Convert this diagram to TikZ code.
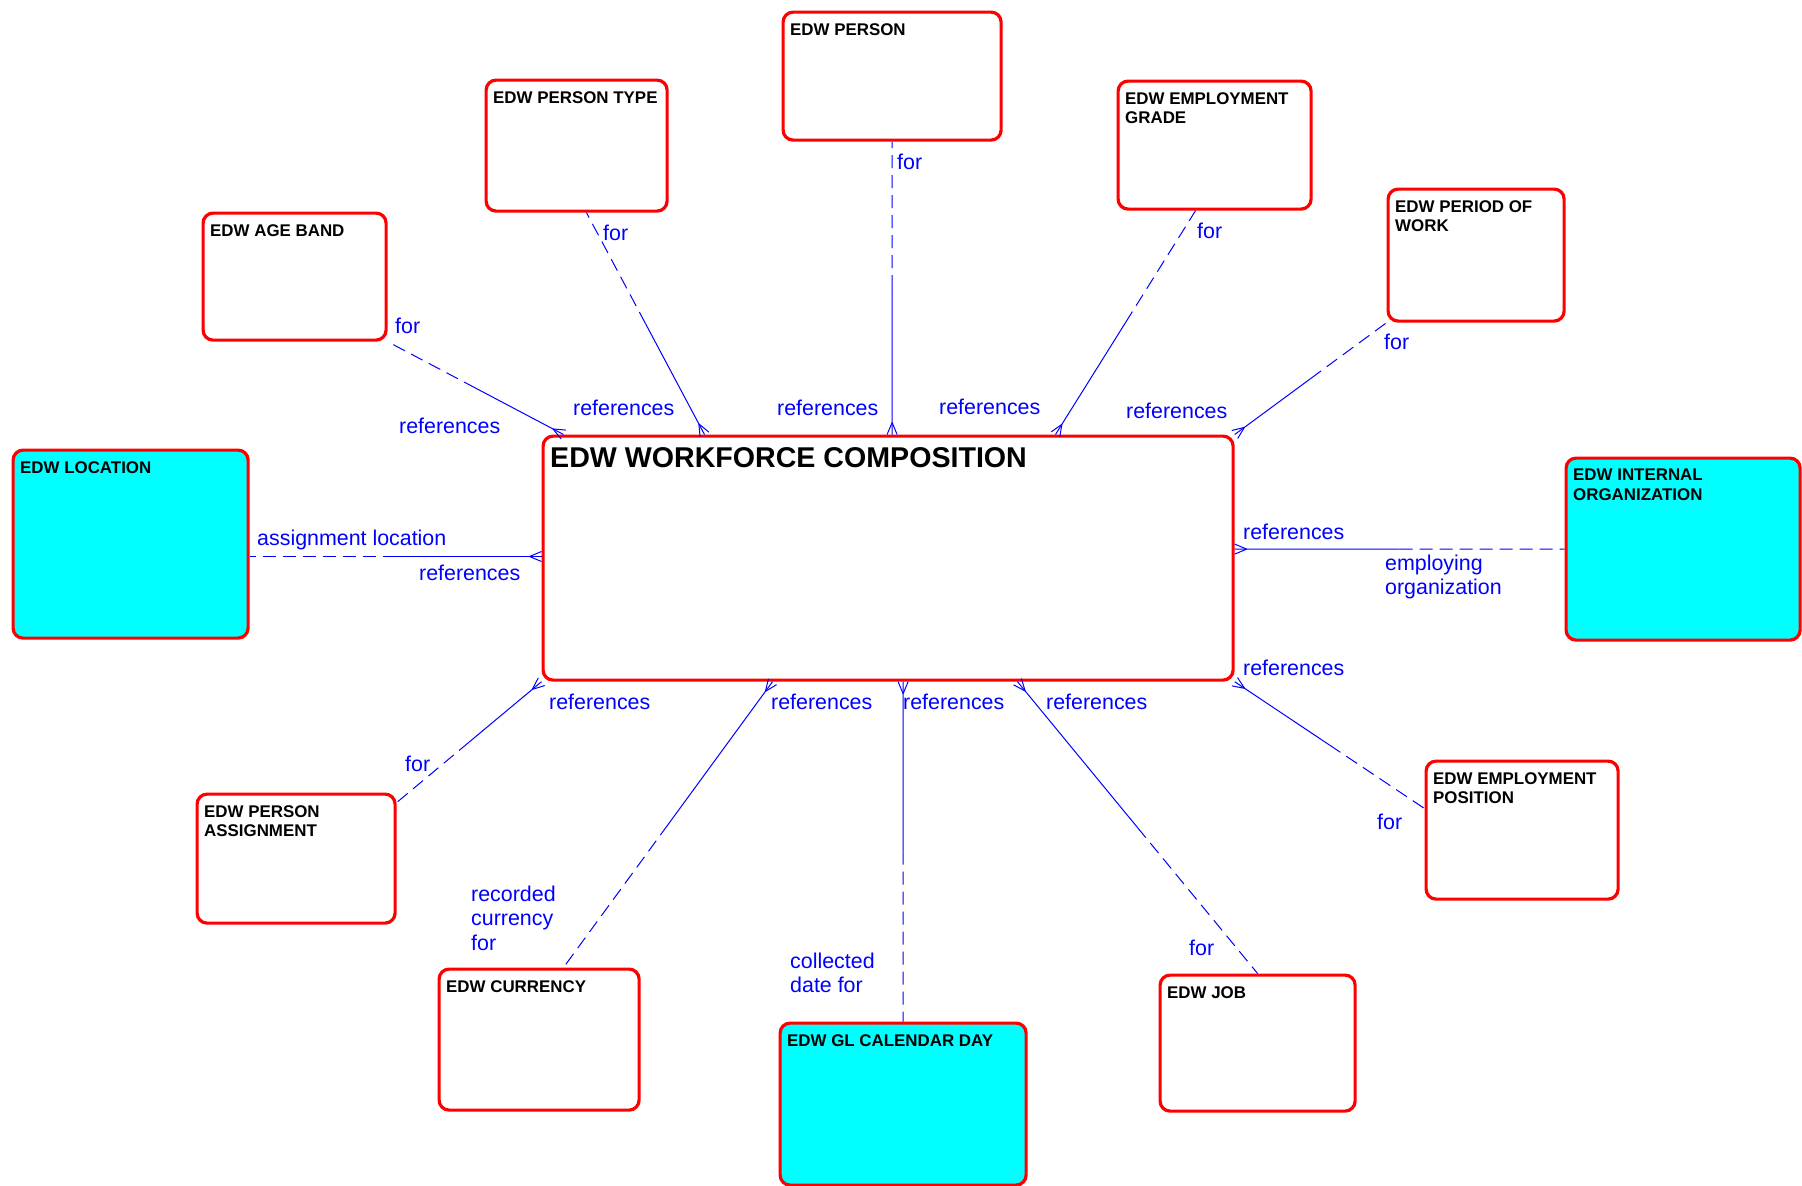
\documentclass[tikz,border=0pt]{standalone}
\usepackage{fontspec}
\setmainfont{Liberation Sans}
\usetikzlibrary{calc}
\usetikzlibrary{decorations.markings}
\definecolor{entcyan}{RGB}{0,255,255}
\definecolor{entred}{RGB}{255,0,0}
\definecolor{relblue}{RGB}{0,0,255}

\begin{document}
\begin{tikzpicture}[x=1pt,y=-1pt,
  entity/.style={draw=entred,line width=3.2pt,rounded corners=10pt,anchor=north west,inner sep=0pt},
  keyent/.style={entity,fill=entcyan},
  enttitle/.style={anchor=north west,inner sep=0pt,xshift=8.5pt,yshift=-12.5pt,align=left,font=\bfseries\fontsize{16.9}{19.5}\selectfont},
  relname/.style={text=relblue,inner sep=0pt,anchor=west,align=left,font=\fontsize{21.4}{24.5}\selectfont},
  refhalf/.style={relblue,line width=1pt,postaction={decorate,decoration={markings,mark=at position 0 with {\draw[relblue,line width=1pt] (12,0) -- (0,5) (12,0) -- (0,-5);}}}},
  forhalf/.style={relblue,line width=1pt,dash pattern=on 13pt off 7pt}]
  \useasboundingbox (0,0) rectangle (1802,1186);

  %centre
  \node[entity,minimum width=690pt,minimum height=244pt,label={[enttitle,font=\bfseries\fontsize{28.6}{32}\selectfont]north west:EDW WORKFORCE COMPOSITION}] (wf) at (541.5,434.5) {};

  %top
  \node[entity,minimum width=183pt,minimum height=127pt,label={[enttitle]north west:EDW AGE BAND}] (age) at (201.5,211.5) {};
  \node[entity,minimum width=181pt,minimum height=131pt,label={[enttitle]north west:EDW PERSON TYPE}] (ptype) at (484.5,78.5) {};
  \node[entity,minimum width=218pt,minimum height=128pt,label={[enttitle]north west:EDW PERSON}] (person) at (781.5,10.5) {};
  \node[entity,minimum width=193pt,minimum height=128pt,label={[enttitle]north west:EDW EMPLOYMENT\\GRADE}] (grade) at (1116.5,79.5) {};
  \node[entity,minimum width=176pt,minimum height=132pt,label={[enttitle]north west:EDW PERIOD OF\\WORK}] (period) at (1386.5,187.5) {};

  %sides
  \node[keyent,minimum width=235pt,minimum height=188pt,label={[enttitle]north west:EDW LOCATION}] (loc) at (11.5,448.5) {};
  \node[keyent,minimum width=234pt,minimum height=182pt,label={[enttitle]north west:EDW INTERNAL\\ORGANIZATION}] (org) at (1564.5,456.5) {};

  %bottom
  \node[entity,minimum width=198pt,minimum height=129pt,label={[enttitle]north west:EDW PERSON\\ASSIGNMENT}] (assign) at (195.5,792.5) {};
  \node[entity,minimum width=200pt,minimum height=141pt,label={[enttitle]north west:EDW CURRENCY}] (cur) at (437.5,967.5) {};
  \node[keyent,minimum width=246pt,minimum height=162pt,label={[enttitle]north west:EDW GL CALENDAR DAY}] (gl) at (778.5,1021.5) {};
  \node[entity,minimum width=195pt,minimum height=136pt,label={[enttitle]north west:EDW JOB}] (job) at (1158.5,973.5) {};
  \node[entity,minimum width=192pt,minimum height=138pt,label={[enttitle]north west:EDW EMPLOYMENT\\POSITION}] (pos) at (1424.5,759.5) {};

  %end points
  \coordinate (c-age) at ($(wf.north west)+(22,0)$);
  \coordinate (c-ptype) at ($(wf.north west)+(163,0)$);
  \coordinate (c-person) at (person.south |- wf.north);
  \coordinate (c-grade) at ($(wf.north west)+(514,0)$);
  \coordinate (c-org) at (org.west -| wf.east);
  \coordinate (c-job) at ($(wf.south west)+(476,0)$);
  \coordinate (c-gl) at (gl.north |- wf.south);
  \coordinate (c-cur) at ($(wf.south west)+(231,0)$);
  \coordinate (e-ptype) at ($(ptype.south west)+(102,0)$);
  \coordinate (e-grade) at ($(grade.south west)+(79,0)$);
  \coordinate (e-pos) at ($(pos.north west)+(0,49)$);
  \coordinate (e-cur) at ($(cur.north west)+(126,0)$);
  \coordinate (e-assign) at ($(assign.north east)+(0,10)$);
  \coordinate (e-loc) at ($(loc.north east)+(0,108)$);
  \coordinate (c-loc) at (e-loc -| wf.west);

  %relationships
  \draw[refhalf] (c-age) -- ($(c-age)!.5!(age.south east)$) coordinate (m-age);
  \draw[forhalf] (m-age) -- (age.south east);
  \draw[refhalf] (c-ptype) -- ($(c-ptype)!.5!(e-ptype)$) coordinate (m-ptype);
  \draw[forhalf] (m-ptype) -- (e-ptype);
  \draw[refhalf] (c-person) -- ($(c-person)!.5!(person.south)$) coordinate (m-person);
  \draw[forhalf] (m-person) -- (person.south);
  \draw[refhalf] (c-grade) -- ($(c-grade)!.5!(e-grade)$) coordinate (m-grade);
  \draw[forhalf] (m-grade) -- (e-grade);
  \draw[refhalf] (wf.north east) -- ($(wf.north east)!.5!(period.south west)$) coordinate (m-period);
  \draw[forhalf] (m-period) -- (period.south west);
  \draw[refhalf] (c-org) -- ($(c-org)!.5!(org.west)$) coordinate (m-org);
  \draw[forhalf] (m-org) -- (org.west);
  \draw[refhalf] (wf.south east) -- ($(wf.south east)!.5!(e-pos)$) coordinate (m-pos);
  \draw[forhalf] (m-pos) -- (e-pos);
  \draw[refhalf] (c-job) -- ($(c-job)!.5!(job.north)$) coordinate (m-job);
  \draw[forhalf] (m-job) -- (job.north);
  \draw[refhalf] (c-gl) -- ($(c-gl)!.5!(gl.north)$) coordinate (m-gl);
  \draw[forhalf] (m-gl) -- (gl.north);
  \draw[refhalf] (c-cur) -- ($(c-cur)!.5!(e-cur)$) coordinate (m-cur);
  \draw[forhalf] (m-cur) -- (e-cur);
  \draw[refhalf] (wf.south west) -- ($(wf.south west)!.5!(e-assign)$) coordinate (m-assign);
  \draw[forhalf] (m-assign) -- (e-assign);
  \draw[refhalf] (c-loc) -- ($(c-loc)!.5!(e-loc)$) coordinate (m-loc);
  \draw[forhalf] (m-loc) -- (e-loc);

  %role names
  \node[relname] (age-for) at (395,326) {for};
  \node[relname] (age-ref) at (399,426) {references};
  \node[relname] (ptype-for) at (603,233) {for};
  \node[relname] (ptype-ref) at (573,408) {references};
  \node[relname] (person-for) at (897,162) {for};
  \node[relname] (person-ref) at (777,408) {references};
  \node[relname] (grade-for) at (1197,231) {for};
  \node[relname] (grade-ref) at (939,407) {references};
  \node[relname] (period-for) at (1384,342) {for};
  \node[relname] (period-ref) at (1126,411) {references};
  \node[relname] (org-ref) at (1243,532) {references};
  \node[relname] (org-for) at (1385,577) {employing\\organization};
  \node[relname] (loc-for) at (257,540) {assignment location};
  \node[relname] (loc-ref) at (419,573) {references};
  \node[relname] (assign-ref) at (549,702) {references};
  \node[relname] (assign-for) at (405,764) {for};
  \node[relname] (cur-ref) at (771,702) {references};
  \node[relname] (cur-for) at (471,918) {recorded\\currency\\for};
  \node[relname] (gl-ref) at (903,702) {references};
  \node[relname] (gl-for) at (790,973) {collected\\date for};
  \node[relname] (job-ref) at (1046,702) {references};
  \node[relname] (job-for) at (1189,948) {for};
  \node[relname] (pos-ref) at (1243,668) {references};
  \node[relname] (pos-for) at (1377,822) {for};
\end{tikzpicture}
\end{document}
